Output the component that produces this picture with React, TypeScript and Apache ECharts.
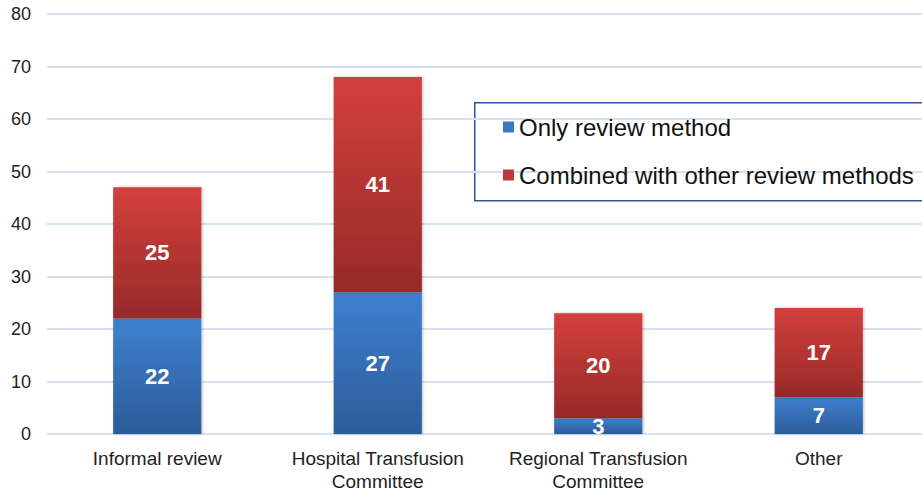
import React, { useEffect, useRef } from "react";
import * as echarts from "echarts";

const categories = ["Informal review", "Hospital Transfusion\nCommittee", "Regional Transfusion\nCommittee", "Other"];
const onlyReview = [22, 27, 3, 7];
const combined = [25, 41, 20, 17];
const seriesNames = ["Only review method", "Combined with other review methods"];

export default function App() {
  const ref = useRef<HTMLDivElement>(null);
  useEffect(() => {
    const chart = echarts.init(ref.current!, null, { renderer: "svg" });
    const font = "'Liberation Sans', Arial, sans-serif";
    const blue = new echarts.graphic.LinearGradient(0, 0, 0, 1, [
      { offset: 0, color: "#3e80cf" },
      { offset: 1, color: "#2c5c99" },
    ]);
    const red = new echarts.graphic.LinearGradient(0, 0, 0, 1, [
      { offset: 0, color: "#d3403c" },
      { offset: 1, color: "#962a28" },
    ]);
    const label = {
      show: true,
      position: "inside",
      color: "#ffffff",
      fontWeight: "bold",
      fontSize: 22,
      fontFamily: font,
    };
    chart.setOption({
      animation: false,
      grid: { left: 47, top: 14, right: 0, bottom: 58, containLabel: false },
      xAxis: {
        type: "category",
        data: categories,
        axisLine: { show: false },
        axisTick: { show: false },
        axisLabel: { color: "#222", fontSize: 19, fontFamily: font, lineHeight: 23, margin: 13, interval: 0 },
      },
      yAxis: {
        type: "value",
        min: 0,
        max: 80,
        interval: 10,
        axisLine: { show: false },
        axisTick: { show: false },
        splitLine: { lineStyle: { color: "#d6e2f2", width: 2 } },
        axisLabel: { color: "#222", fontSize: 18, fontFamily: font, margin: 16 },
      },
      legend: {
        orient: "vertical",
        left: 498,
        top: 110,
        itemWidth: 11,
        itemHeight: 11,
        itemGap: 24,
        icon: "rect",
        textStyle: { fontSize: 24, fontFamily: font, color: "#111" },
        data: [
          { name: seriesNames[0], itemStyle: { color: "#3b76c0" } },
          { name: seriesNames[1], itemStyle: { color: "#c0393a" } },
        ],
      },
      graphic: [
        {
          type: "rect",
          left: 474,
          top: 102,
          shape: { width: 470, height: 98 },
          style: { fill: "#ffffff", stroke: "#2f5597", lineWidth: 1.5 },
          z: -1,
        },
      ],
      series: [
        {
          name: seriesNames[0],
          type: "bar",
          stack: "s",
          barWidth: "40%",
          data: onlyReview,
          itemStyle: { color: blue, shadowBlur: 3, shadowColor: "rgba(0,0,0,0.25)", shadowOffsetX: 1 },
          label,
        },
        {
          name: seriesNames[1],
          type: "bar",
          stack: "s",
          barWidth: "40%",
          data: combined,
          itemStyle: { color: red, shadowBlur: 3, shadowColor: "rgba(0,0,0,0.25)", shadowOffsetX: 1 },
          label,
        },
      ],
    });
    return () => chart.dispose();
  }, []);
  return (
    <div style={{ position: "absolute", left: 0, top: 0, width: 922, height: 493, overflow: "hidden" }}>
      <div ref={ref} style={{ width: 929, height: 493 }} />
    </div>
  );
}
